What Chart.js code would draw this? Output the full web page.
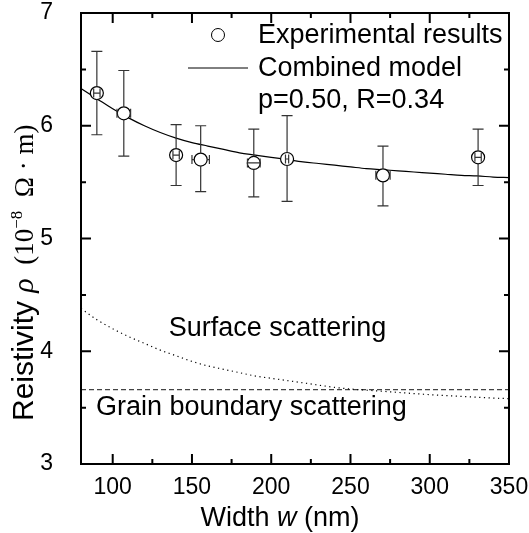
<!DOCTYPE html>
<html>
<head>
<title>Resistivity vs width</title>
<script src="https://cdn.jsdelivr.net/npm/chart.js"></script>
<style>
  body { margin: 0; background: #fff; }
  #wrap { width: 529px; height: 533px; }
</style>
</head>
<body>
<div id="wrap"><canvas id="rhoChart" width="529" height="533"></canvas></div>
<script>
// experimental results
const widths   = [90, 107, 140, 155.5, 189, 210, 270.5, 330.5];
const widthErr = [2, 4.3, 2, 5.5, 4, 1, 4.5, 2];
const rho      = [6.29, 6.11, 5.74, 5.70, 5.67, 5.705, 5.56, 5.72];
const rhoHigh  = [6.66, 6.49, 6.01, 6.00, 5.97, 6.09, 5.82, 5.97];
const rhoLow   = [5.92, 5.73, 5.47, 5.415, 5.37, 5.33, 5.29, 5.47];

// combined model (p=0.50, R=0.34)
const modelW   = [80, 90, 100, 110, 120, 130, 140, 150, 160, 170, 180, 190, 200, 210, 220, 230, 240, 250, 260, 270, 280, 290, 300, 310, 320, 330, 340, 350];
const modelRho = [6.33, 6.24, 6.15, 6.07, 6.00, 5.94, 5.89, 5.85, 5.82, 5.79, 5.76, 5.74, 5.72, 5.70, 5.68, 5.665, 5.65, 5.635, 5.62, 5.61, 5.60, 5.59, 5.58, 5.57, 5.56, 5.555, 5.545, 5.54];

// surface scattering part
const surfW   = [80, 90, 100, 110, 120, 130, 140, 150, 160, 170, 180, 190, 200, 220, 240, 250, 260, 280, 300, 320, 340, 350];
const surfRho = [4.38, 4.28, 4.20, 4.13, 4.07, 4.01, 3.96, 3.91, 3.87, 3.84, 3.81, 3.78, 3.76, 3.72, 3.68, 3.665, 3.655, 3.635, 3.615, 3.60, 3.585, 3.58];

// grain boundary part
const grainW   = [80, 350];
const grainRho = [3.66, 3.66];

const xTicks = [100, 150, 200, 250, 300, 350];
const xMinor = [125, 175, 225, 275, 325];
const yTicks = [3, 4, 5, 6, 7];
const yMinor = [3.5, 4.5, 5.5, 6.5];

const SANS = '"Liberation Sans", Arial, sans-serif';
const SERIF = '"Liberation Serif", "Times New Roman", serif';

function toXY(xs, ys) {
  return xs.map((v, i) => ({ x: v, y: ys[i] }));
}

// draw a row of text pieces with different fonts; centred on x0 or starting at x0
function drawPieces(ctx, pieces, x0, base, centre) {
  let total = 0;
  pieces.forEach(p => { ctx.font = p.font; total += ctx.measureText(p.text).width; });
  let x = centre ? x0 - total / 2 : x0;
  ctx.textAlign = 'left';
  ctx.textBaseline = 'alphabetic';
  pieces.forEach(p => {
    ctx.font = p.font;
    ctx.fillText(p.text, x, base - (p.rise || 0));
    x += ctx.measureText(p.text).width;
  });
}

function noPad(s) {
  s.paddingTop = 0; s.paddingBottom = 0; s.paddingLeft = 0; s.paddingRight = 0;
}

const extras = {
  id: 'extras',
  afterDatasetsDraw(chart) {
    const { ctx, scales: { x, y } } = chart;
    const r = 6.5;
    ctx.save();
    ctx.strokeStyle = '#333';
    ctx.lineWidth = 1.2;
    widths.forEach((w, i) => {
      const px = x.getPixelForValue(w);
      const py = y.getPixelForValue(rho[i]);
      const top = y.getPixelForValue(rhoHigh[i]);
      const bot = y.getPixelForValue(rhoLow[i]);
      const xl = x.getPixelForValue(w - widthErr[i]);
      const xr = x.getPixelForValue(w + widthErr[i]);
      ctx.beginPath();
      ctx.moveTo(px, py - r); ctx.lineTo(px, top);
      ctx.moveTo(px - 5.5, top); ctx.lineTo(px + 5.5, top);
      ctx.moveTo(px, py + r); ctx.lineTo(px, bot);
      ctx.moveTo(px - 5.5, bot); ctx.lineTo(px + 5.5, bot);
      if (xr - px > r) {
        ctx.moveTo(px + r, py); ctx.lineTo(xr, py);
        ctx.moveTo(px - r, py); ctx.lineTo(xl, py);
      } else {
        ctx.moveTo(xl, py); ctx.lineTo(xr, py);
      }
      if (xr - px > 1.5) {
        ctx.moveTo(xl, py - 4.5); ctx.lineTo(xl, py + 4.5);
        ctx.moveTo(xr, py - 4.5); ctx.lineTo(xr, py + 4.5);
      }
      ctx.stroke();
    });
    ctx.restore();
  },
  afterDraw(chart) {
    const { ctx, chartArea: a, scales: { x, y } } = chart;
    ctx.save();
    // frame
    ctx.strokeStyle = '#000';
    ctx.lineWidth = 2;
    ctx.strokeRect(a.left, a.top, a.right - a.left, a.bottom - a.top);
    // inward ticks on all four sides
    ctx.beginPath();
    const xt = (vals, len) => vals.forEach(v => {
      const p = x.getPixelForValue(v);
      ctx.moveTo(p, a.bottom); ctx.lineTo(p, a.bottom - len);
      ctx.moveTo(p, a.top); ctx.lineTo(p, a.top + len);
    });
    const yt = (vals, len) => vals.forEach(v => {
      const p = y.getPixelForValue(v);
      ctx.moveTo(a.left, p); ctx.lineTo(a.left + len, p);
      ctx.moveTo(a.right, p); ctx.lineTo(a.right - len, p);
    });
    xt(xTicks, 10); xt(xMinor, 5);
    yt(yTicks, 10); yt(yMinor, 5);
    ctx.stroke();

    // legend
    ctx.lineWidth = 1;
    ctx.beginPath();
    ctx.arc(218, 35, 6.5, 0, Math.PI * 2);
    ctx.fillStyle = '#fff'; ctx.fill(); ctx.stroke();
    ctx.beginPath();
    ctx.moveTo(188, 68); ctx.lineTo(248, 68); ctx.stroke();
    ctx.fillStyle = '#000';
    ctx.font = '27px ' + SANS;
    ctx.textAlign = 'left';
    ctx.textBaseline = 'middle';
    ctx.fillText('Experimental results', 258, 36);
    ctx.fillText('Combined model', 258, 69);
    ctx.fillText('p=0.50, R=0.34', 258, 101);

    // curve labels
    ctx.textAlign = 'center';
    ctx.fillText('Surface scattering', x.getPixelForValue(204), y.getPixelForValue(4.2));
    ctx.textAlign = 'left';
    ctx.fillText('Grain boundary scattering', x.getPixelForValue(89.5), y.getPixelForValue(3.5));

    // axis titles
    drawPieces(ctx, [
      { text: 'Width ', font: '27px ' + SANS },
      { text: 'w', font: 'italic 27px ' + SANS },
      { text: ' (nm)', font: '27px ' + SANS }
    ], 280, 526, true);

    ctx.translate(33, 421);
    ctx.rotate(-Math.PI / 2);
    drawPieces(ctx, [
      { text: 'Reistivity ', font: '30px ' + SANS },
      { text: 'ρ', font: 'italic 30px ' + SERIF },
      { text: '  (10', font: '27px ' + SERIF },
      { text: '−8', font: '17px ' + SERIF, rise: 11 },
      { text: '  Ω · m)', font: '27px ' + SERIF }
    ], 0, 0, false);
    ctx.restore();
  }
};

new Chart(document.getElementById('rhoChart'), {
  type: 'scatter',
  data: {
    datasets: [
      {
        label: 'Experimental results',
        data: toXY(widths, rho),
        pointStyle: 'circle',
        pointRadius: 6.5,
        pointBackgroundColor: '#fff',
        pointBorderColor: '#000',
        pointBorderWidth: 1.2,
        showLine: false
      },
      {
        label: 'Combined model',
        data: toXY(modelW, modelRho),
        showLine: true,
        borderColor: '#000',
        borderWidth: 1.2,
        pointRadius: 0,
        cubicInterpolationMode: 'monotone'
      },
      {
        label: 'Surface scattering',
        data: toXY(surfW, surfRho),
        showLine: true,
        borderColor: '#000',
        borderWidth: 1.2,
        borderDash: [1.2, 3.5],
        pointRadius: 0,
        cubicInterpolationMode: 'monotone'
      },
      {
        label: 'Grain boundary scattering',
        data: toXY(grainW, grainRho),
        showLine: true,
        borderColor: '#444',
        borderWidth: 1.2,
        borderDash: [5, 3],
        pointRadius: 0
      }
    ]
  },
  options: {
    responsive: false,
    animation: false,
    layout: { padding: { top: 13, right: 20, left: 0, bottom: 0 } },
    plugins: { legend: { display: false }, tooltip: { enabled: false } },
    scales: {
      x: {
        type: 'linear', min: 80, max: 350,
        afterBuildTicks: s => { s.ticks = xTicks.map(v => ({ value: v })); },
        afterFit: s => { s.height = 69; noPad(s); },
        grid: { display: false, drawTicks: false },
        border: { display: false },
        ticks: { color: '#000', font: { family: SANS, size: 23 }, padding: 10, maxRotation: 0, autoSkip: false }
      },
      y: {
        type: 'linear', min: 3, max: 7,
        afterBuildTicks: s => { s.ticks = yTicks.map(v => ({ value: v })); },
        afterFit: s => { s.width = 81; noPad(s); },
        grid: { display: false, drawTicks: false },
        border: { display: false },
        ticks: { color: '#000', font: { family: SANS, size: 23 }, padding: 28, autoSkip: false }
      }
    }
  },
  plugins: [extras]
});
</script>
</body>
</html>
